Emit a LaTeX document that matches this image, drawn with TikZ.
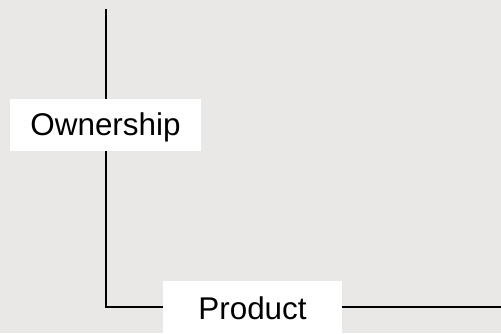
\documentclass[tikz,border=0pt]{standalone}
\usepackage{fontspec}
\setmainfont{Liberation Sans}
\definecolor{canvas}{RGB}{234,232,230}
\begin{document}
\begin{tikzpicture}[x=1pt,y=-1pt,
  label box/.style={fill=white, inner sep=0pt, text height=22.5pt, text depth=0pt,
    font=\fontsize{31.4}{36}\selectfont},
  axis line/.style={draw=black, line width=1.1pt}]
  \useasboundingbox (0,0) rectangle (501,333);
  \clip (0,0) rectangle (501,333);
  \fill[canvas] (0,0) rectangle (501,333);
  % axis path
  \coordinate (top) at (106,9);
  \coordinate (corner) at (106,307);
  \coordinate (right) at (502,307);
  \draw[axis line] (top) -- (corner) -- (right);
  % axis labels
  \node[label box, minimum width=191pt, minimum height=52pt] (own) at (105.5,124.5) {Ownership};
  \node[label box, minimum width=179pt, minimum height=55pt] (prod) at (252.5,308.5) {Product};
\end{tikzpicture}
\end{document}
